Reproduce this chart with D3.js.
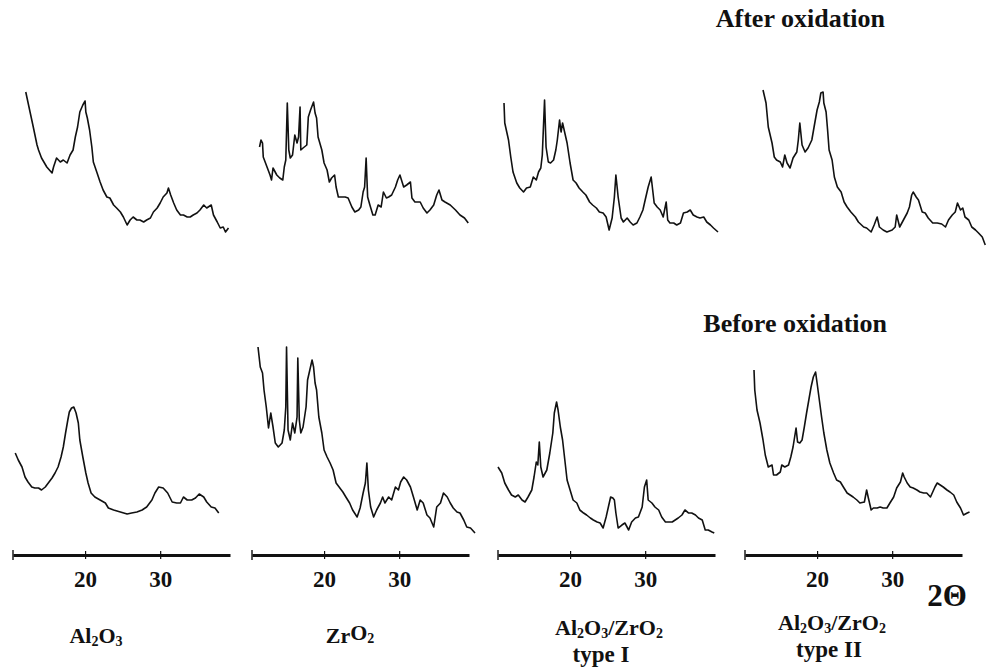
<!DOCTYPE html>
<html>
<head>
<meta charset="utf-8">
<script src="https://cdn.jsdelivr.net/npm/d3@7/dist/d3.min.js"></script>
<style>
  html, body { margin: 0; padding: 0; background: #fff; }
  svg { display: block; }
  text { font-family: "Liberation Serif", "Times New Roman", serif; font-weight: bold; fill: #111; }
</style>
</head>
<body>
<svg id="chart" width="986" height="668"></svg>
<script>
// ---- Data: [2θ (deg), intensity (a.u.)] ----
const al2o3After = [[12.1,198],[12.7,177],[13.1,163],[13.6,145],[13.8,140],[14.2,132],[14.9,123],[15.6,117],[15.8,123],[16.2,132],[16.7,128],[17.1,130],[17.6,127],[18.0,135],[18.4,140],[18.7,153],[19.0,163],[19.3,178],[19.7,185],[20.0,189],[20.1,178],[20.3,172],[20.6,160],[20.9,143],[21.1,128],[21.6,117],[22.0,108],[22.4,100],[22.9,93],[23.3,92],[23.8,85],[24.2,82],[24.7,78],[25.1,73],[25.6,65],[26.0,70],[26.4,73],[26.9,70],[27.3,70],[27.8,68],[28.2,70],[28.7,72],[29.1,78],[29.6,82],[30.0,87],[30.4,93],[30.9,97],[31.1,102],[31.4,95],[31.8,87],[32.2,80],[32.7,75],[33.1,75],[33.6,73],[34.0,73],[34.4,75],[34.9,77],[35.3,80],[35.8,85],[36.2,82],[36.8,85],[37.1,75],[37.6,68],[38.0,62],[38.4,63],[38.7,58],[39.1,62]];

const zro2After = [[11.4,143],[11.6,150],[11.8,147],[11.9,133],[12.4,123],[12.8,115],[13.0,110],[13.2,122],[13.7,115],[14.1,112],[14.5,110],[14.7,123],[14.9,130],[15.1,187],[15.3,140],[15.5,132],[15.8,135],[16.1,155],[16.4,147],[16.6,153],[16.8,183],[16.9,140],[17.2,142],[17.7,145],[17.9,173],[18.2,180],[18.6,188],[18.8,177],[19.0,172],[19.2,153],[19.7,140],[20.0,127],[20.4,120],[20.7,108],[21.0,112],[21.4,115],[21.6,103],[21.9,93],[22.4,93],[22.8,93],[23.2,92],[23.7,83],[24.1,78],[24.6,80],[24.9,83],[25.2,98],[25.4,103],[25.6,132],[25.8,93],[26.1,85],[26.5,75],[26.8,75],[27.2,85],[27.6,83],[27.9,98],[28.3,92],[28.6,93],[29.0,95],[29.5,103],[29.8,110],[30.1,115],[30.6,103],[31.0,105],[31.5,108],[31.7,92],[32.1,88],[32.8,88],[33.2,82],[33.7,77],[34.1,80],[34.6,85],[35.0,95],[35.3,100],[35.7,90],[36.1,88],[36.8,85],[37.5,80],[38.1,75],[38.7,72],[39.2,67]];

const typeIAfter = [[11.2,187],[11.3,167],[11.8,150],[12.1,133],[12.4,118],[12.9,107],[13.3,102],[13.8,98],[14.2,102],[14.7,103],[15.1,113],[15.5,110],[15.8,118],[16.1,122],[16.3,135],[16.6,190],[16.8,143],[17.1,128],[17.4,127],[17.8,130],[18.1,140],[18.3,150],[18.6,170],[18.8,158],[19.0,167],[19.3,157],[19.6,147],[20.0,127],[20.4,110],[20.8,107],[21.2,102],[21.7,98],[22.1,95],[22.6,88],[23.0,85],[23.5,82],[23.9,78],[24.4,77],[24.8,73],[25.2,60],[25.6,72],[25.9,93],[26.1,115],[26.4,93],[26.8,72],[27.1,68],[27.6,72],[28.0,68],[28.4,65],[28.9,67],[29.3,73],[29.7,80],[30.0,90],[30.4,103],[30.8,113],[31.0,100],[31.2,87],[31.6,83],[32.0,80],[32.4,73],[32.8,88],[33.0,70],[33.3,67],[33.8,67],[34.2,65],[34.7,67],[35.1,77],[35.6,78],[36.0,80],[36.4,75],[36.9,73],[37.3,72],[37.8,73],[38.2,68],[38.7,65],[39.1,62],[39.7,58]];

const typeIIAfter = [[12.8,200],[13.2,187],[13.5,163],[14.0,147],[14.3,133],[14.6,130],[15.1,128],[15.4,123],[15.7,135],[16.0,127],[16.4,122],[16.8,132],[17.3,138],[17.5,150],[17.7,167],[18.0,145],[18.4,138],[18.8,142],[19.3,150],[19.6,163],[20.0,180],[20.3,188],[20.5,197],[20.8,198],[20.9,187],[21.2,178],[21.4,160],[21.6,140],[22.0,130],[22.3,113],[22.7,103],[23.2,98],[23.6,88],[24.0,83],[24.5,78],[25.1,73],[25.5,68],[26.2,63],[26.6,62],[27.2,58],[27.6,65],[28.0,73],[28.3,63],[28.8,60],[29.3,58],[30.0,60],[30.4,63],[30.6,75],[31.0,63],[31.5,70],[32.0,77],[32.3,83],[32.6,95],[32.8,98],[33.2,93],[33.5,90],[34.0,78],[34.4,77],[34.8,72],[35.4,67],[36.0,67],[36.6,66],[37.1,63],[37.5,70],[38.0,75],[38.4,78],[38.7,87],[39.1,80],[39.4,82],[39.7,73],[40.2,70],[40.6,63],[41.1,60],[41.5,57],[42.0,53],[42.4,45]];

const al2o3Before = [[10.7,107],[11.1,100],[11.6,93],[12.0,83],[12.4,78],[12.9,73],[13.3,72],[13.8,72],[14.2,70],[14.7,73],[15.1,77],[15.6,82],[16.0,87],[16.4,93],[16.8,103],[17.1,113],[17.4,127],[17.7,140],[17.9,148],[18.2,152],[18.5,153],[18.8,147],[19.1,137],[19.3,120],[19.7,103],[20.1,87],[20.4,77],[20.8,67],[21.3,63],[22.0,60],[22.7,57],[23.1,52],[23.8,50],[24.7,48],[25.6,46],[26.2,47],[26.9,48],[27.6,50],[28.2,53],[28.9,60],[29.3,67],[29.8,73],[30.4,72],[31.0,67],[31.6,58],[32.2,57],[32.7,57],[33.1,63],[33.6,60],[34.2,60],[34.7,62],[35.2,66],[35.8,63],[36.2,58],[36.8,53],[37.3,52],[37.8,47]];

const zro2Before = [[11.2,213],[11.5,193],[11.8,187],[12.0,170],[12.3,153],[12.6,132],[12.9,147],[13.2,133],[13.5,117],[13.9,113],[14.4,117],[14.7,130],[14.9,153],[15.0,213],[15.2,130],[15.5,120],[15.8,137],[16.1,127],[16.4,143],[16.5,202],[16.7,140],[16.9,127],[17.2,133],[17.6,153],[17.8,180],[18.1,190],[18.4,200],[18.6,193],[18.8,177],[19.0,170],[19.3,143],[19.7,127],[20.0,110],[20.4,103],[20.8,97],[21.2,90],[21.6,77],[22.0,73],[22.5,68],[22.9,63],[23.4,57],[23.8,50],[24.4,43],[24.8,52],[25.2,67],[25.5,77],[25.7,97],[25.9,70],[26.2,53],[26.6,43],[27.0,50],[27.5,57],[27.8,63],[28.1,57],[28.6,63],[29.0,60],[29.5,73],[29.9,70],[30.2,78],[30.6,83],[31.0,80],[31.5,73],[31.9,63],[32.4,50],[32.8,60],[33.2,57],[33.7,45],[34.1,42],[34.6,33],[35.0,53],[35.5,57],[35.9,67],[36.4,63],[36.8,57],[37.2,52],[37.7,48],[38.1,47],[38.6,40],[39.0,33],[39.5,32],[40.1,27]];

const typeIBefore = [[10.4,93],[10.9,87],[11.3,77],[11.8,70],[12.2,65],[12.7,63],[13.1,65],[13.6,60],[14.0,58],[14.4,63],[14.9,70],[15.2,83],[15.5,98],[15.7,95],[15.9,118],[16.1,93],[16.4,83],[16.9,90],[17.3,107],[17.7,127],[17.9,147],[18.2,158],[18.4,150],[18.7,133],[19.0,120],[19.3,100],[19.6,80],[20.0,70],[20.4,60],[20.9,57],[21.3,50],[21.8,47],[22.2,45],[22.7,42],[23.1,40],[23.6,38],[24.0,37],[24.4,32],[24.8,43],[25.1,53],[25.4,63],[25.7,62],[25.9,60],[26.1,47],[26.4,32],[26.9,35],[27.3,37],[27.8,30],[28.2,38],[28.7,42],[29.1,43],[29.6,53],[29.9,73],[30.2,80],[30.4,60],[30.9,57],[31.3,53],[31.8,50],[32.2,43],[32.7,38],[33.1,38],[33.6,38],[34.0,40],[34.4,42],[34.9,45],[35.3,50],[35.8,47],[36.2,47],[36.7,45],[37.1,42],[37.6,40],[38.0,30],[38.4,30],[38.9,28],[39.2,27]];

const typeIIBefore = [[11.6,190],[11.7,170],[12.0,150],[12.4,137],[12.8,120],[13.1,105],[13.5,93],[14.0,95],[14.2,85],[14.6,85],[15.1,88],[15.3,95],[15.7,93],[16.2,95],[16.5,103],[16.8,113],[17.2,132],[17.4,118],[17.7,117],[18.0,120],[18.3,133],[18.6,147],[18.9,160],[19.2,173],[19.5,183],[19.8,188],[20.0,177],[20.3,160],[20.6,143],[20.9,127],[21.3,110],[21.7,97],[22.2,87],[22.6,80],[23.1,78],[23.5,73],[24.0,67],[24.4,65],[24.8,63],[25.3,60],[25.7,57],[26.3,58],[26.6,70],[26.8,63],[27.2,50],[27.5,52],[28.0,52],[28.4,53],[28.8,52],[29.3,52],[29.7,57],[30.2,63],[30.6,72],[31.1,78],[31.4,87],[31.6,83],[32.0,77],[32.4,73],[32.8,72],[33.3,70],[33.7,68],[34.2,67],[34.6,67],[35.1,63],[35.4,68],[35.7,73],[36.0,77],[36.4,75],[36.8,73],[37.3,70],[37.7,68],[38.2,65],[38.6,58],[39.1,52],[39.5,45],[40.0,47],[40.3,48]];

const tickValues = [20, 30];
const axisDomain = [10.4, 39.3];
const sampleNames = [["Al","2","O","3"], ["Zr","O","2"], ["Al","2","O","3","/ZrO","2"], ["Al","2","O","3","/ZrO","2"]];
const sampleSub = ["", "", "type I", "type II"];
const rowTitles = ["After oxidation", "Before oxidation"];
const axisTitle = "2Θ";

// ---- Layout ----
const svg = d3.select("#chart");
const panelX20 = [85, 324, 570, 817];
const afterSeries = [al2o3After, zro2After, typeIAfter, typeIIAfter];
const beforeSeries = [al2o3Before, zro2Before, typeIBefore, typeIIBefore];

const yTop = d3.scaleLinear().domain([0, 200]).range([290, 90]);
const yBot = d3.scaleLinear().domain([0, 220]).range([560, 340]);
const axisY = 555;

panelX20.forEach((x20, i) => {
  const x = d3.scaleLinear().domain(axisDomain).range([x20 - 72, x20 + 145]);
  const lineTop = d3.line().x(d => x(d[0])).y(d => yTop(d[1]));
  const lineBot = d3.line().x(d => x(d[0])).y(d => yBot(d[1]));

  svg.append("path").datum(afterSeries[i]).attr("d", lineTop)
    .attr("fill", "none").attr("stroke", "#111").attr("stroke-width", 1.6).attr("stroke-linejoin", "round");
  svg.append("path").datum(beforeSeries[i]).attr("d", lineBot)
    .attr("fill", "none").attr("stroke", "#111").attr("stroke-width", 1.6).attr("stroke-linejoin", "round");

  // axis
  const ax = svg.append("g").attr("transform", `translate(0,${axisY})`)
    .call(d3.axisBottom(x).tickValues(tickValues).tickSize(0).tickPadding(16).tickFormat(d3.format("d")));
  ax.select(".domain").attr("stroke", "#111").attr("stroke-width", 2.8);
  ax.selectAll(".tick text").attr("font-size", 23).attr("font-family", "Liberation Serif").attr("font-weight", "bold").attr("fill", "#111").attr("dy", "0.71em");
  ax.selectAll(".tick").append("line").attr("y1", -4).attr("y2", 4).attr("stroke", "#111").attr("stroke-width", 1.2);
  ax.append("line").attr("x1", x(axisDomain[0])).attr("x2", x(axisDomain[0])).attr("y1", -5).attr("y2", 5).attr("stroke", "#111").attr("stroke-width", 1.4);

  // sample label
  const cx = [96, 350, 609, 832][i];
  const by = [643, 643, 635, 630][i];
  const t = svg.append("text").attr("x", cx).attr("y", by).attr("text-anchor", "middle").attr("font-size", 22);
  sampleNames[i].forEach((s, k) => {
    const isSub = /^[0-9]$/.test(s);
    t.append("tspan").text(s)
      .attr("font-size", isSub ? 14 : 22)
      .attr("dy", isSub ? 3 : (k > 0 ? -3 : 0));
  });
  if (sampleSub[i]) {
    svg.append("text").attr("x", [0, 0, 601, 829][i]).attr("y", [0, 0, 662, 657][i])
      .attr("text-anchor", "middle").attr("font-size", 23).text(sampleSub[i]);
  }
});

svg.append("text").attr("x", 885).attr("y", 27).attr("text-anchor", "end").attr("font-size", 26).text(rowTitles[0]);
svg.append("text").attr("x", 887).attr("y", 332).attr("text-anchor", "end").attr("font-size", 26).text(rowTitles[1]);
svg.append("text").attr("x", 947).attr("y", 606).attr("text-anchor", "middle").attr("font-size", 31).text(axisTitle);
</script>
</body>
</html>
